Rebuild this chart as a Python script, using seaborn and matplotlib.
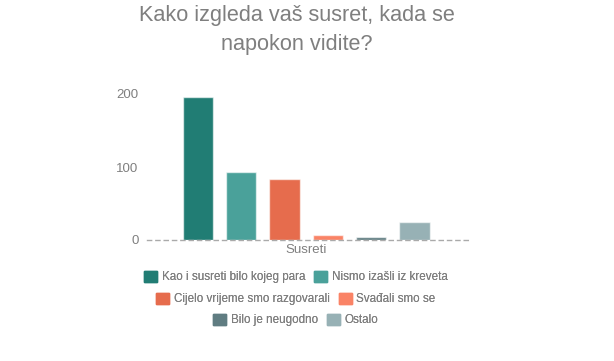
import matplotlib
matplotlib.use("Agg")
import matplotlib.pyplot as plt
import seaborn as sns
import pandas as pd

categories = ["Kao i susreti bilo kojeg para", "Nismo izašli iz kreveta",
              "Cijelo vrijeme smo razgovarali", "Svađali smo se",
              "Bilo je neugodno", "Ostalo"]
values = [196, 93, 83, 7, 4, 24]
colors = ["#217d74", "#4aa19a", "#e66c4d", "#fa8366", "#5f7c81", "#97b1b5"]
group = "Susreti"
yticks = [0, 100, 200]

df = pd.DataFrame({"grupa": [group] * len(categories),
                   "kategorija": categories,
                   "broj": values})

sns.set_style("white")
plt.rcParams["font.family"] = ["Liberation Sans", "DejaVu Sans"]
grey = "#7f7f7f"

fig = plt.figure(figsize=(6.14, 3.61), dpi=100)
ax = fig.add_axes([147 / 614, 1 - 240 / 361, 325 / 614, 146 / 361 * 1.05])

sns.barplot(data=df, x="grupa", y="broj", hue="kategorija",
            hue_order=categories, palette=colors, saturation=1,
            width=0.8, gap=0.3, edgecolor=(1, 1, 1, 0.6), linewidth=1,
            legend=False, ax=ax)

ax.set_xlim(-0.49, 0.51)
ax.set_ylim(0, 210)
ax.set_yticks(yticks)
ax.tick_params(axis="both", length=0, colors=grey, labelsize=9.5, pad=6)
ax.tick_params(axis="x", pad=3)
ax.set_xlabel("")
ax.set_ylabel("")
for s in ["top", "right", "left"]:
    ax.spines[s].set_visible(False)
ax.spines["bottom"].set_linestyle((0, (3, 3)))
ax.spines["bottom"].set_color("#aaaaaa")
ax.spines["bottom"].set_linewidth(1)

fig.text(0.484, 0.985, "Kako izgleda vaš susret, kada se\nnapokon vidite?",
         ha="center", va="top", fontsize=15.6, color=grey, linespacing=1.45)

# legenda u tri centrirana reda
rows = [(0, 2), (2, 4), (4, 6)]
row_y = [277, 299, 320]
for (a, b), yy in zip(rows, row_y):
    leg = fig.legend([plt.Rectangle((0, 0), 1, 1, color=colors[i]) for i in range(a, b)],
                     categories[a:b], loc="center", ncol=2,
                     bbox_to_anchor=(0.482, 1 - yy / 361), frameon=False,
                     fontsize=8.4, handlelength=1.1, handleheight=1.1,
                     handletextpad=0.4, columnspacing=0.8, labelcolor=grey)
    fig.add_artist(leg)

fig.savefig("out.png", dpi=100)
